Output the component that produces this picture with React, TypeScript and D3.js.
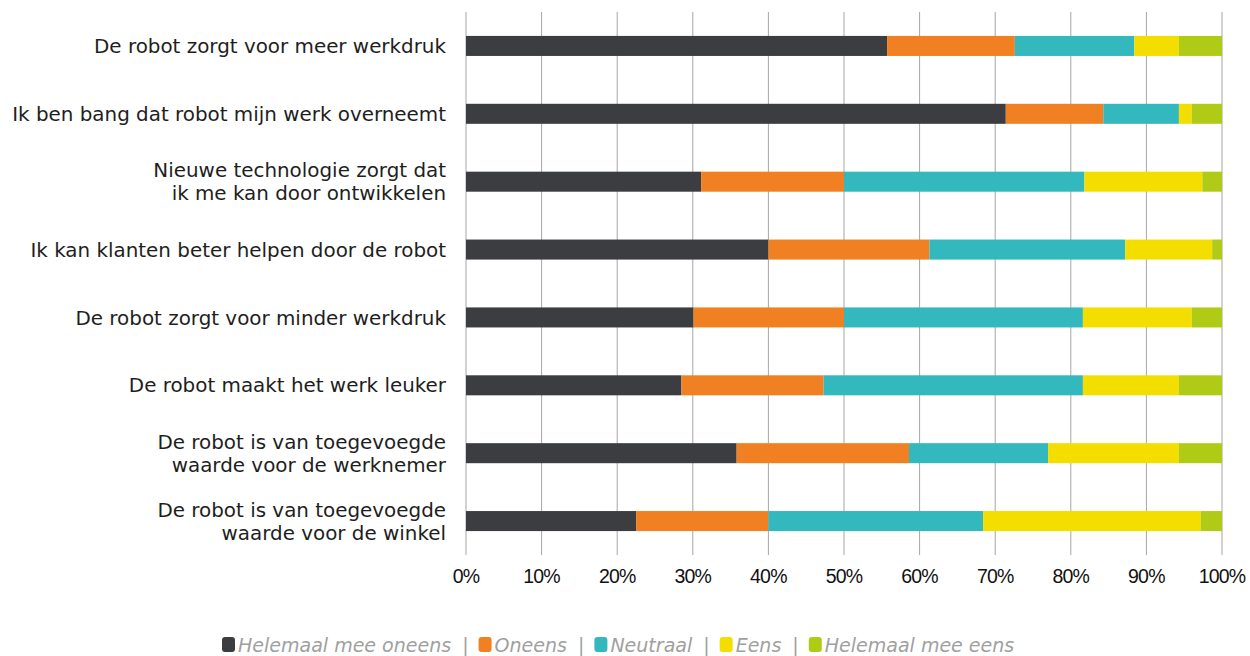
import React, { useEffect, useRef } from "react";
import * as d3 from "d3";

const categories: string[][] = [
  ["De robot zorgt voor meer werkdruk"],
  ["Ik ben bang dat robot mijn werk overneemt"],
  ["Nieuwe technologie zorgt dat", "ik me kan door ontwikkelen"],
  ["Ik kan klanten beter helpen door de robot"],
  ["De robot zorgt voor minder werkdruk"],
  ["De robot maakt het werk leuker"],
  ["De robot is van toegevoegde", "waarde voor de werknemer"],
  ["De robot is van toegevoegde", "waarde voor de winkel"],
];

const seriesNames = ["Helemaal mee oneens", "Oneens", "Neutraal", "Eens", "Helemaal mee eens"];
const helemaalOneens = [55.7, 71.4, 31.1, 40.0, 30.1, 28.5, 35.8, 22.5];
const oneens = [16.9, 12.9, 18.9, 21.3, 19.9, 18.8, 22.8, 17.5];
const neutraal = [15.8, 10.0, 31.8, 25.9, 31.6, 34.3, 18.4, 28.4];
const eens = [5.9, 1.7, 15.6, 11.5, 14.4, 12.7, 17.3, 28.8];
const helemaalEens = [5.7, 4.0, 2.6, 1.3, 4.0, 5.7, 5.7, 2.8];
const tickValues = [0, 10, 20, 30, 40, 50, 60, 70, 80, 90, 100];
const colors = ["#3c3d41", "#f08022", "#32b8bd", "#f4de00", "#b0cb16"];

export default function App() {
  const ref = useRef<SVGSVGElement>(null);
  useEffect(() => {
    const svg = d3.select(ref.current);
    svg.selectAll("*").remove();
    const left = 466, right = 1222, top = 12, bottom = 555;
    const x = d3.scaleLinear().domain([0, 100]).range([left, right]);
    const y = d3.scaleBand<number>().domain(d3.range(categories.length)).range([top, bottom]).paddingInner(0.705).paddingOuter(0.3525);
    const series = [helemaalOneens, oneens, neutraal, eens, helemaalEens];
    const rows = categories.map((_, i) => {
      const o: any = { i };
      seriesNames.forEach((n, k) => (o[n] = series[k][i]));
      return o;
    });
    const stacked = d3.stack<any>().keys(seriesNames)(rows);

    svg.append("g").selectAll("line").data(tickValues).join("line")
      .attr("x1", (d) => x(d)).attr("x2", (d) => x(d))
      .attr("y1", top).attr("y2", bottom)
      .attr("stroke", "#a6a6a6").attr("stroke-width", 1);

    svg.append("g").selectAll("g").data(stacked).join("g")
      .attr("fill", (_, k) => colors[k])
      .selectAll("rect").data((d) => d).join("rect")
      .attr("x", (d) => x(d[0])).attr("width", (d) => x(Math.min(100, d[1])) - x(d[0]))
      .attr("y", (d: any) => y(d.data.i)!).attr("height", y.bandwidth());

    const lab = svg.append("g").attr("font-family", "'DejaVu Sans', sans-serif").attr("font-size", 18).attr("fill", "#1e1e1e").attr("text-anchor", "end");
    const targetW = 434;
    const probe = lab.append("text").text(categories[1][0]);
    const w0 = (probe.node() as SVGTextElement).getComputedTextLength();
    probe.remove();
    lab.attr("font-size", 18 * targetW / w0);
    categories.forEach((lines, i) => {
      const cy = y(i)! + y.bandwidth() / 2;
      const lh = 23;
      const t = lab.append("text").attr("x", 446);
      lines.forEach((l, j) => {
        t.append("tspan").attr("x", 446).attr("y", cy + (j - (lines.length - 1) / 2) * lh).attr("dy", "0.36em").text(l);
      });
    });

    svg.append("g").attr("font-family", "'Liberation Sans', sans-serif").attr("font-size", 19.5).attr("fill", "#111").attr("text-anchor", "middle")
      .selectAll("text").data(tickValues).join("text")
      .attr("x", (d) => x(d)).attr("y", 583).attr("letter-spacing", -0.8).text((d) => d + "%");

    const lg = svg.append("g").attr("font-family", "'DejaVu Sans', sans-serif").attr("font-size", 17).attr("font-style", "italic").attr("fill", "#a0a0a0");
    const drawLegend = () => {
      lg.selectAll("*").remove();
      let cx = 0;
      seriesNames.forEach((n, k) => {
        lg.append("rect").attr("x", cx).attr("y", 637).attr("width", 13).attr("height", 15).attr("rx", 3).attr("fill", colors[k]);
        cx += 16;
        const t = lg.append("text").attr("x", cx).attr("y", 652).text(n);
        cx += (t.node() as SVGTextElement).getComputedTextLength();
        if (k < seriesNames.length - 1) {
          cx += 11;
          const s = lg.append("text").attr("x", cx).attr("y", 652).attr("font-style", "normal").text("|");
          cx += (s.node() as SVGTextElement).getComputedTextLength() + 10;
        }
      });
      return cx;
    };
    let totalW = drawLegend();
    const fixed = 5 * 16 + 4 * 21 + 4 * 6;
    const fs = 17 * (790 - fixed) / (totalW - fixed);
    lg.attr("font-size", fs);
    totalW = drawLegend();
    lg.attr("transform", `translate(${222},0)`);
  }, []);
  return <svg ref={ref} width={1250} height={656} style={{ position: "absolute", left: 0, top: 0, background: "#fff" }} />;
}
